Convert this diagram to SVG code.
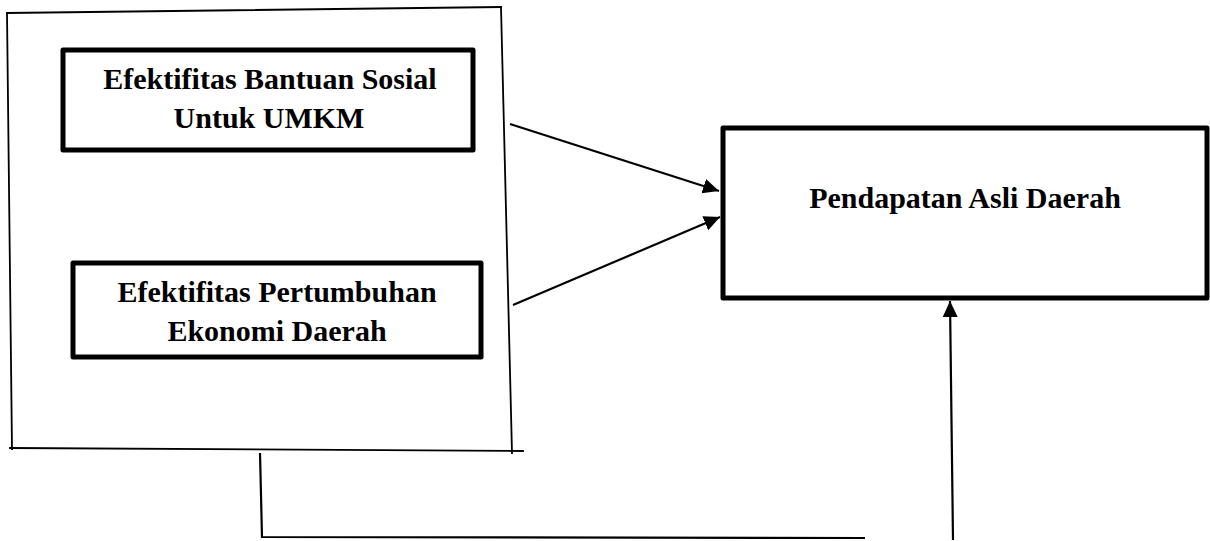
<svg xmlns="http://www.w3.org/2000/svg" width="1210" height="541" viewBox="0 0 1210 541">
<style>
.thin{fill:none;stroke:#000;stroke-width:1.8;stroke-linecap:square}
.box{fill:#fff;stroke:#000;stroke-width:5;stroke-linejoin:round}
.lbl{font-family:"Liberation Serif","Times New Roman",serif;font-weight:bold;font-size:30px;fill:#000;text-anchor:middle}
.conn{fill:none;stroke:#000;stroke-width:2.2}
</style>
<defs>
<marker id="ah" markerUnits="userSpaceOnUse" markerWidth="18" markerHeight="16" refX="16" refY="7.5" orient="auto">
<polygon points="0,0 16,7.5 0,15" fill="#000"/>
</marker>
</defs>
<rect width="1210" height="541" fill="#fff"/>
<g id="container">
<line class="thin" x1="7" y1="13" x2="501" y2="7"/>
<line class="thin" x1="501" y1="7" x2="512" y2="453"/>
<line class="thin" x1="10" y1="448" x2="523" y2="451"/>
<line class="thin" x1="7" y1="13" x2="12" y2="449"/>
</g>
<g id="node-bantuan">
<rect class="box" x="63" y="50" width="410" height="100"/>
<text class="lbl" x="270" y="89">Efektifitas Bantuan Sosial</text>
<text class="lbl" x="269" y="128">Untuk UMKM</text>
</g>
<g id="node-pertumbuhan">
<rect class="box" x="73" y="263" width="408" height="94"/>
<text class="lbl" x="277" y="302">Efektifitas Pertumbuhan</text>
<text class="lbl" x="277" y="341">Ekonomi Daerah</text>
</g>
<g id="node-pad">
<rect class="box" x="723" y="128" width="484" height="170"/>
<text class="lbl" x="965" y="208">Pendapatan Asli Daerah</text>
</g>
<g id="connectors">
<line class="conn" x1="510" y1="124" x2="719" y2="191" marker-end="url(#ah)"/>
<line class="conn" x1="513" y1="305" x2="720" y2="217" marker-end="url(#ah)"/>
<polyline class="conn" points="260,453 262,537 865,538"/>
<line class="conn" x1="953" y1="540" x2="950" y2="301" marker-end="url(#ah)"/>
</g>
</svg>
